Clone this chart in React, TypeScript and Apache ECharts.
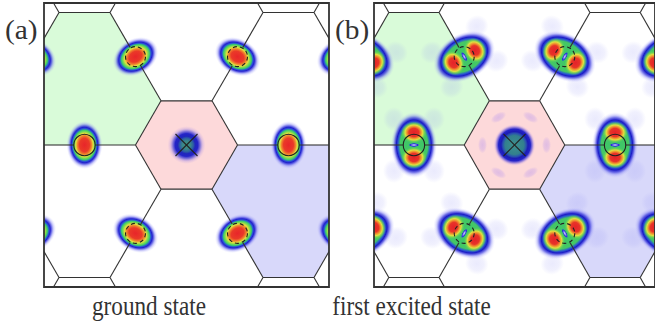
import React, { useEffect, useRef } from "react";
import * as echarts from "echarts";

// ---------------- data ----------------
// zone centres (reciprocal lattice points); hexagon corner distance = 1
const zoneX = [0, 4, -4, 2, -2, 2, -2];
const zoneY = [0, 0, 0, 3.4641, 3.4641, -3.4641, -3.4641];
// bonds joining neighbouring zones (zone indices)
const bondFrom = [0, 0, 0, 0, 0, 0, 1, 2, 1, 2];
const bondTo = [1, 2, 3, 4, 5, 6, 3, 4, 5, 6];
const bondMarker = ["solid", "solid", "dashed", "dashed", "dashed", "dashed", "none", "none", "none", "none"];
// shaded triangular regions between three zones
const shadedZones = [[0, 2, 4], [0, 1, 5]];
const centreMarkers = [0];
// visible window (same units)
const viewX = [-2.794, 2.794];
const viewY = [-2.784, 2.784];
const panelTags = ["(a)", "(b)"];
const panelCaptions = ["ground state", "first excited state"];
const panelStates = ["ground", "excited"];

// ---------------- styles ----------------
const PINK = "#fdd9da";
const SHADE_COLORS = ["#d9fbd9", "#d8d8fa"];
const LINE = "#333333";
const PX = 285 / (viewX[1] - viewX[0]);

type P = [number, number];
type Stop = [number, string];

const G_SITE: Stop[] = [[0, "#e8252a"], [0.28, "#ea3a28"], [0.4, "#f08a2e"], [0.48, "#e2e040"], [0.55, "#80dc50"], [0.62, "#38c870"], [0.68, "#2a56d6"], [0.74, "#2222cc"], [0.8, "rgba(50,50,222,0.72)"], [0.88, "rgba(110,110,238,0.35)"], [0.95, "rgba(150,150,248,0.12)"], [1, "rgba(170,170,255,0)"]];
const G_CENTRE: Stop[] = [[0, "#409282"], [0.22, "#3a8688"], [0.36, "#2c5ea4"], [0.46, "#2026bc"], [0.6, "#2424c8"], [0.72, "rgba(60,60,215,0.65)"], [0.85, "rgba(140,120,230,0.28)"], [1, "rgba(200,160,230,0)"]];
const E_BASE: Stop[] = [[0, "#3cc46c"], [0.6, "#44c864"], [0.69, "#2a5ad0"], [0.76, "#1c1cc6"], [0.83, "rgba(55,55,222,0.7)"], [0.9, "rgba(110,110,240,0.32)"], [0.96, "rgba(150,150,248,0.1)"], [1, "rgba(160,160,255,0)"]];
const E_LOBE: Stop[] = [[0, "#e4222a"], [0.38, "#e83428"], [0.53, "#f08c2e"], [0.68, "#e0e040"], [0.84, "rgba(120,215,80,0.6)"], [1, "rgba(70,200,100,0)"]];
const E_NODE: Stop[] = [[0, "#e8e8ff"], [0.35, "#8080f0"], [0.7, "#2a2ad6"], [1, "rgba(40,120,200,0)"]];
const E_SAT: Stop[] = [[0, "rgba(150,150,245,0.2)"], [0.6, "rgba(150,150,245,0.14)"], [1, "rgba(150,150,245,0)"]];
const E_CENTRE: Stop[] = [[0, "#5aa0a0"], [0.1, "#3c8c8c"], [0.45, "#32808e"], [0.56, "#2a50b0"], [0.64, "#1c1cb4"], [0.76, "#2424c8"], [0.86, "rgba(70,60,218,0.5)"], [0.94, "rgba(150,120,230,0.15)"], [1, "rgba(200,160,230,0)"]];
const E_CSAT: Stop[] = [[0, "rgba(195,160,235,0.5)"], [0.6, "rgba(195,160,235,0.35)"], [1, "rgba(195,160,235,0)"]];

// ---------------- geometry ----------------
function hexVerts(cx: number, cy: number): P[] {
  return [0, 1, 2, 3, 4, 5].map((k) => [cx + Math.cos((k * Math.PI) / 3), cy + Math.sin((k * Math.PI) / 3)] as P);
}
function pairGeom(i: number, j: number) {
  const x1 = zoneX[i], y1 = zoneY[i], x2 = zoneX[j], y2 = zoneY[j];
  const L = Math.hypot(x2 - x1, y2 - y1);
  const ux = (x2 - x1) / L, uy = (y2 - y1) / L;
  return {
    a: [x1 + ux, y1 + uy] as P,
    b: [x2 - ux, y2 - uy] as P,
    m: [(x1 + x2) / 2, (y1 + y2) / 2] as P,
    u: [ux, uy] as P,
    ang: Math.atan2(uy, ux),
  };
}
function clipSeg(p: P, q: P): [P, P] | null {
  let t0 = 0, t1 = 1;
  const dx = q[0] - p[0], dy = q[1] - p[1];
  const pp = [-dx, dx, -dy, dy];
  const qq = [p[0] - viewX[0], viewX[1] - p[0], p[1] - viewY[0], viewY[1] - p[1]];
  for (let k = 0; k < 4; k++) {
    if (pp[k] === 0) {
      if (qq[k] < 0) return null;
    } else {
      const t = qq[k] / pp[k];
      if (pp[k] < 0) { if (t > t1) return null; if (t > t0) t0 = t; }
      else { if (t < t0) return null; if (t < t1) t1 = t; }
    }
  }
  return [[p[0] + t0 * dx, p[1] + t0 * dy], [p[0] + t1 * dx, p[1] + t1 * dy]];
}
function clipPoly(pts: P[]): P[] {
  const edges: [(p: P) => boolean, (a: P, b: P) => P][] = [
    [(p) => p[0] >= viewX[0], (a, b) => { const t = (viewX[0] - a[0]) / (b[0] - a[0]); return [viewX[0], a[1] + t * (b[1] - a[1])]; }],
    [(p) => p[0] <= viewX[1], (a, b) => { const t = (viewX[1] - a[0]) / (b[0] - a[0]); return [viewX[1], a[1] + t * (b[1] - a[1])]; }],
    [(p) => p[1] >= viewY[0], (a, b) => { const t = (viewY[0] - a[1]) / (b[1] - a[1]); return [a[0] + t * (b[0] - a[0]), viewY[0]]; }],
    [(p) => p[1] <= viewY[1], (a, b) => { const t = (viewY[1] - a[1]) / (b[1] - a[1]); return [a[0] + t * (b[0] - a[0]), viewY[1]]; }],
  ];
  let out = pts;
  for (const [inside, inter] of edges) {
    const inp = out;
    out = [];
    for (let k = 0; k < inp.length; k++) {
      const cur = inp[k], prev = inp[(k + inp.length - 1) % inp.length];
      if (inside(cur)) {
        if (!inside(prev)) out.push(inter(prev, cur));
        out.push(cur);
      } else if (inside(prev)) out.push(inter(prev, cur));
    }
    if (!out.length) break;
  }
  return out;
}

const CUT = 10.7 / PX;
function buildSegments(): [number, number, number, number][] {
  const segs: [number, number, number, number][] = [];
  const add = (p: P, q: P) => {
    const c = clipSeg(p, q);
    if (c && Math.hypot(c[1][0] - c[0][0], c[1][1] - c[0][1]) > 1e-6) segs.push([c[0][0], c[0][1], c[1][0], c[1][1]]);
  };
  zoneX.forEach((_, z) => {
    const v = hexVerts(zoneX[z], zoneY[z]);
    for (let k = 0; k < 6; k++) add(v[k], v[(k + 1) % 6]);
  });
  bondFrom.forEach((f, i) => {
    const g = pairGeom(f, bondTo[i]);
    if (bondMarker[i] === "none") add(g.a, g.b);
    else {
      add(g.a, [g.m[0] - CUT * g.u[0], g.m[1] - CUT * g.u[1]]);
      add([g.m[0] + CUT * g.u[0], g.m[1] + CUT * g.u[1]], g.b);
    }
  });
  return segs;
}
function buildRegions() {
  const regs: { pts: P[]; color: string }[] = [];
  regs.push({ pts: clipPoly(hexVerts(zoneX[0], zoneY[0])), color: PINK });
  shadedZones.forEach((tri, r) => {
    const pts: P[] = [];
    for (let k = 0; k < 3; k++) {
      const g = pairGeom(tri[k], tri[(k + 1) % 3]);
      pts.push(g.a, g.b);
    }
    regs.push({ pts: clipPoly(pts), color: SHADE_COLORS[r] });
  });
  return regs;
}

function grad(stops: Stop[]) {
  return { type: "radial", x: 0.5, y: 0.5, r: 0.5, colorStops: stops.map(([o, c]) => ({ offset: o, color: c })) };
}
function ell(ox: number, oy: number, rx: number, ry: number, stops: Stop[]) {
  return {
    type: "circle", x: ox, y: oy, scaleX: rx / 10, scaleY: ry / 10,
    shape: { cx: 0, cy: 0, r: 10 }, style: { fill: grad(stops) },
  };
}

type Site = { x: number; y: number; ang: number; kind: "bond" | "centre"; marker: string };
function buildSites(): Site[] {
  const s: Site[] = bondFrom.map((f, i) => {
    const g = pairGeom(f, bondTo[i]);
    return { x: g.m[0], y: g.m[1], ang: g.ang, kind: "bond", marker: bondMarker[i] };
  });
  centreMarkers.forEach((z) => s.push({ x: zoneX[z], y: zoneY[z], ang: 0, kind: "centre", marker: "cross" }));
  return s;
}

function blobChildren(site: Site, state: string): any[] {
  if (state === "ground") {
    if (site.kind === "centre") return [ell(0, 0, 19, 19, G_CENTRE)];
    return [ell(0, 0, 18, 24, G_SITE)];
  }
  if (site.kind === "centre") {
    const ch: any[] = [];
    for (let k = 0; k < 6; k++) {
      const a = (k * Math.PI) / 3;
      ch.push({ type: "group", rotation: a, children: [ell(32, 0, 4.5, 8.5, E_CSAT)] });
    }
    ch.push(ell(0, 0, 21, 21, E_CENTRE));
    return ch;
  }
  return [
    ell(20, 26, 11, 12, E_SAT), ell(20, -26, 11, 12, E_SAT), ell(-20, 26, 11, 12, E_SAT), ell(-20, -26, 11, 12, E_SAT),
    ell(0, 0, 23, 33, E_BASE),
    ell(0, 12.5, 13, 11, E_LOBE), ell(0, -12.5, 13, 11, E_LOBE),
    ell(0, 0, 5.5, 2, E_NODE),
  ];
}

function buildOption() {
  const segs = buildSegments();
  const regs = buildRegions();
  const sites = buildSites();
  const series: any[] = [];
  [0, 1].forEach((pi) => {
    const common = { type: "custom", coordinateSystem: "cartesian2d", xAxisIndex: pi, yAxisIndex: pi, silent: true, clip: true };
    series.push({
      ...common, z: 1, data: regs.map(() => [0, 0]),
      renderItem: (params: any, api: any) => {
        const r = regs[params.dataIndex];
        return { type: "polygon", shape: { points: r.pts.map((p) => api.coord(p)) }, style: { fill: r.color } };
      },
    });
    series.push({
      ...common, z: 2, data: sites.map((s) => [s.x, s.y]),
      renderItem: (params: any, api: any) => {
        const s = sites[params.dataIndex];
        const c = api.coord([s.x, s.y]);
        return { type: "group", x: c[0], y: c[1], rotation: s.ang, children: blobChildren(s, panelStates[pi]) };
      },
    });
    series.push({
      ...common, z: 3, data: segs,
      renderItem: (params: any, api: any) => {
        const s = segs[params.dataIndex];
        const p = api.coord([s[0], s[1]]), q = api.coord([s[2], s[3]]);
        return { type: "line", shape: { x1: p[0], y1: p[1], x2: q[0], y2: q[1] }, style: { stroke: LINE, lineWidth: 1.1 } };
      },
    });
    series.push({
      ...common, z: 4, data: sites.map((s) => [s.x, s.y]),
      renderItem: (params: any, api: any) => {
        const s = sites[params.dataIndex];
        const c = api.coord([s.x, s.y]);
        if (s.marker === "solid")
          return { type: "circle", shape: { cx: c[0], cy: c[1], r: 10.7 }, style: { fill: "none", stroke: "#222", lineWidth: 1.1 } };
        if (s.marker === "dashed")
          return { type: "circle", shape: { cx: c[0], cy: c[1], r: 10 }, style: { fill: "none", stroke: "#222", lineWidth: 1.1, lineDash: [4, 3] } };
        if (s.marker === "cross") {
          const d = 11;
          return {
            type: "group", children: [
              { type: "line", shape: { x1: c[0] - d, y1: c[1] - d, x2: c[0] + d, y2: c[1] + d }, style: { stroke: "#222", lineWidth: 1.1 } },
              { type: "line", shape: { x1: c[0] - d, y1: c[1] + d, x2: c[0] + d, y2: c[1] - d }, style: { stroke: "#222", lineWidth: 1.1 } },
            ],
          };
        }
        return null;
      },
    });
    series.push({
      ...common, clip: false, z: 5, data: [[0, 0]],
      renderItem: (params: any) => {
        const cs = params.coordSys;
        return { type: "rect", shape: { x: cs.x, y: cs.y, width: cs.width, height: cs.height }, style: { fill: "none", stroke: "#333", lineWidth: 1.8 } };
      },
    });
  });

  const captionX = [149, 411.5];
  const graphic: any[] = [];
  panelTags.forEach((t, i) => {
    graphic.push({
      type: "text", x: 5 + i * 330, y: 29, scaleX: 1.05,
      style: { text: t, font: "28px 'Liberation Serif', serif", fill: "#333", textVerticalAlign: "middle" },
    });
    graphic.push({
      type: "text", x: captionX[i], y: 306, scaleX: 0.86,
      style: { text: panelCaptions[i], font: "27px 'Liberation Serif', serif", fill: "#333", textAlign: "center", textVerticalAlign: "middle" },
    });
  });

  return {
    animation: false,
    backgroundColor: "#ffffff",
    grid: [0, 1].map((i) => ({ left: 44 + i * 330, top: 3, width: 285, height: 284, show: false })),
    xAxis: [0, 1].map((i) => ({ type: "value", gridIndex: i, min: viewX[0], max: viewX[1], show: false })),
    yAxis: [0, 1].map((i) => ({ type: "value", gridIndex: i, min: viewY[0], max: viewY[1], show: false })),
    series,
    graphic,
  };
}

export default function App() {
  const ref = useRef<HTMLDivElement>(null);
  useEffect(() => {
    const chart = echarts.init(ref.current!, null, { renderer: "svg" });
    chart.setOption(buildOption() as any);
    return () => chart.dispose();
  }, []);
  return <div ref={ref} style={{ position: "fixed", left: 0, top: 0, width: 655, height: 327, background: "#fff" }} />;
}
